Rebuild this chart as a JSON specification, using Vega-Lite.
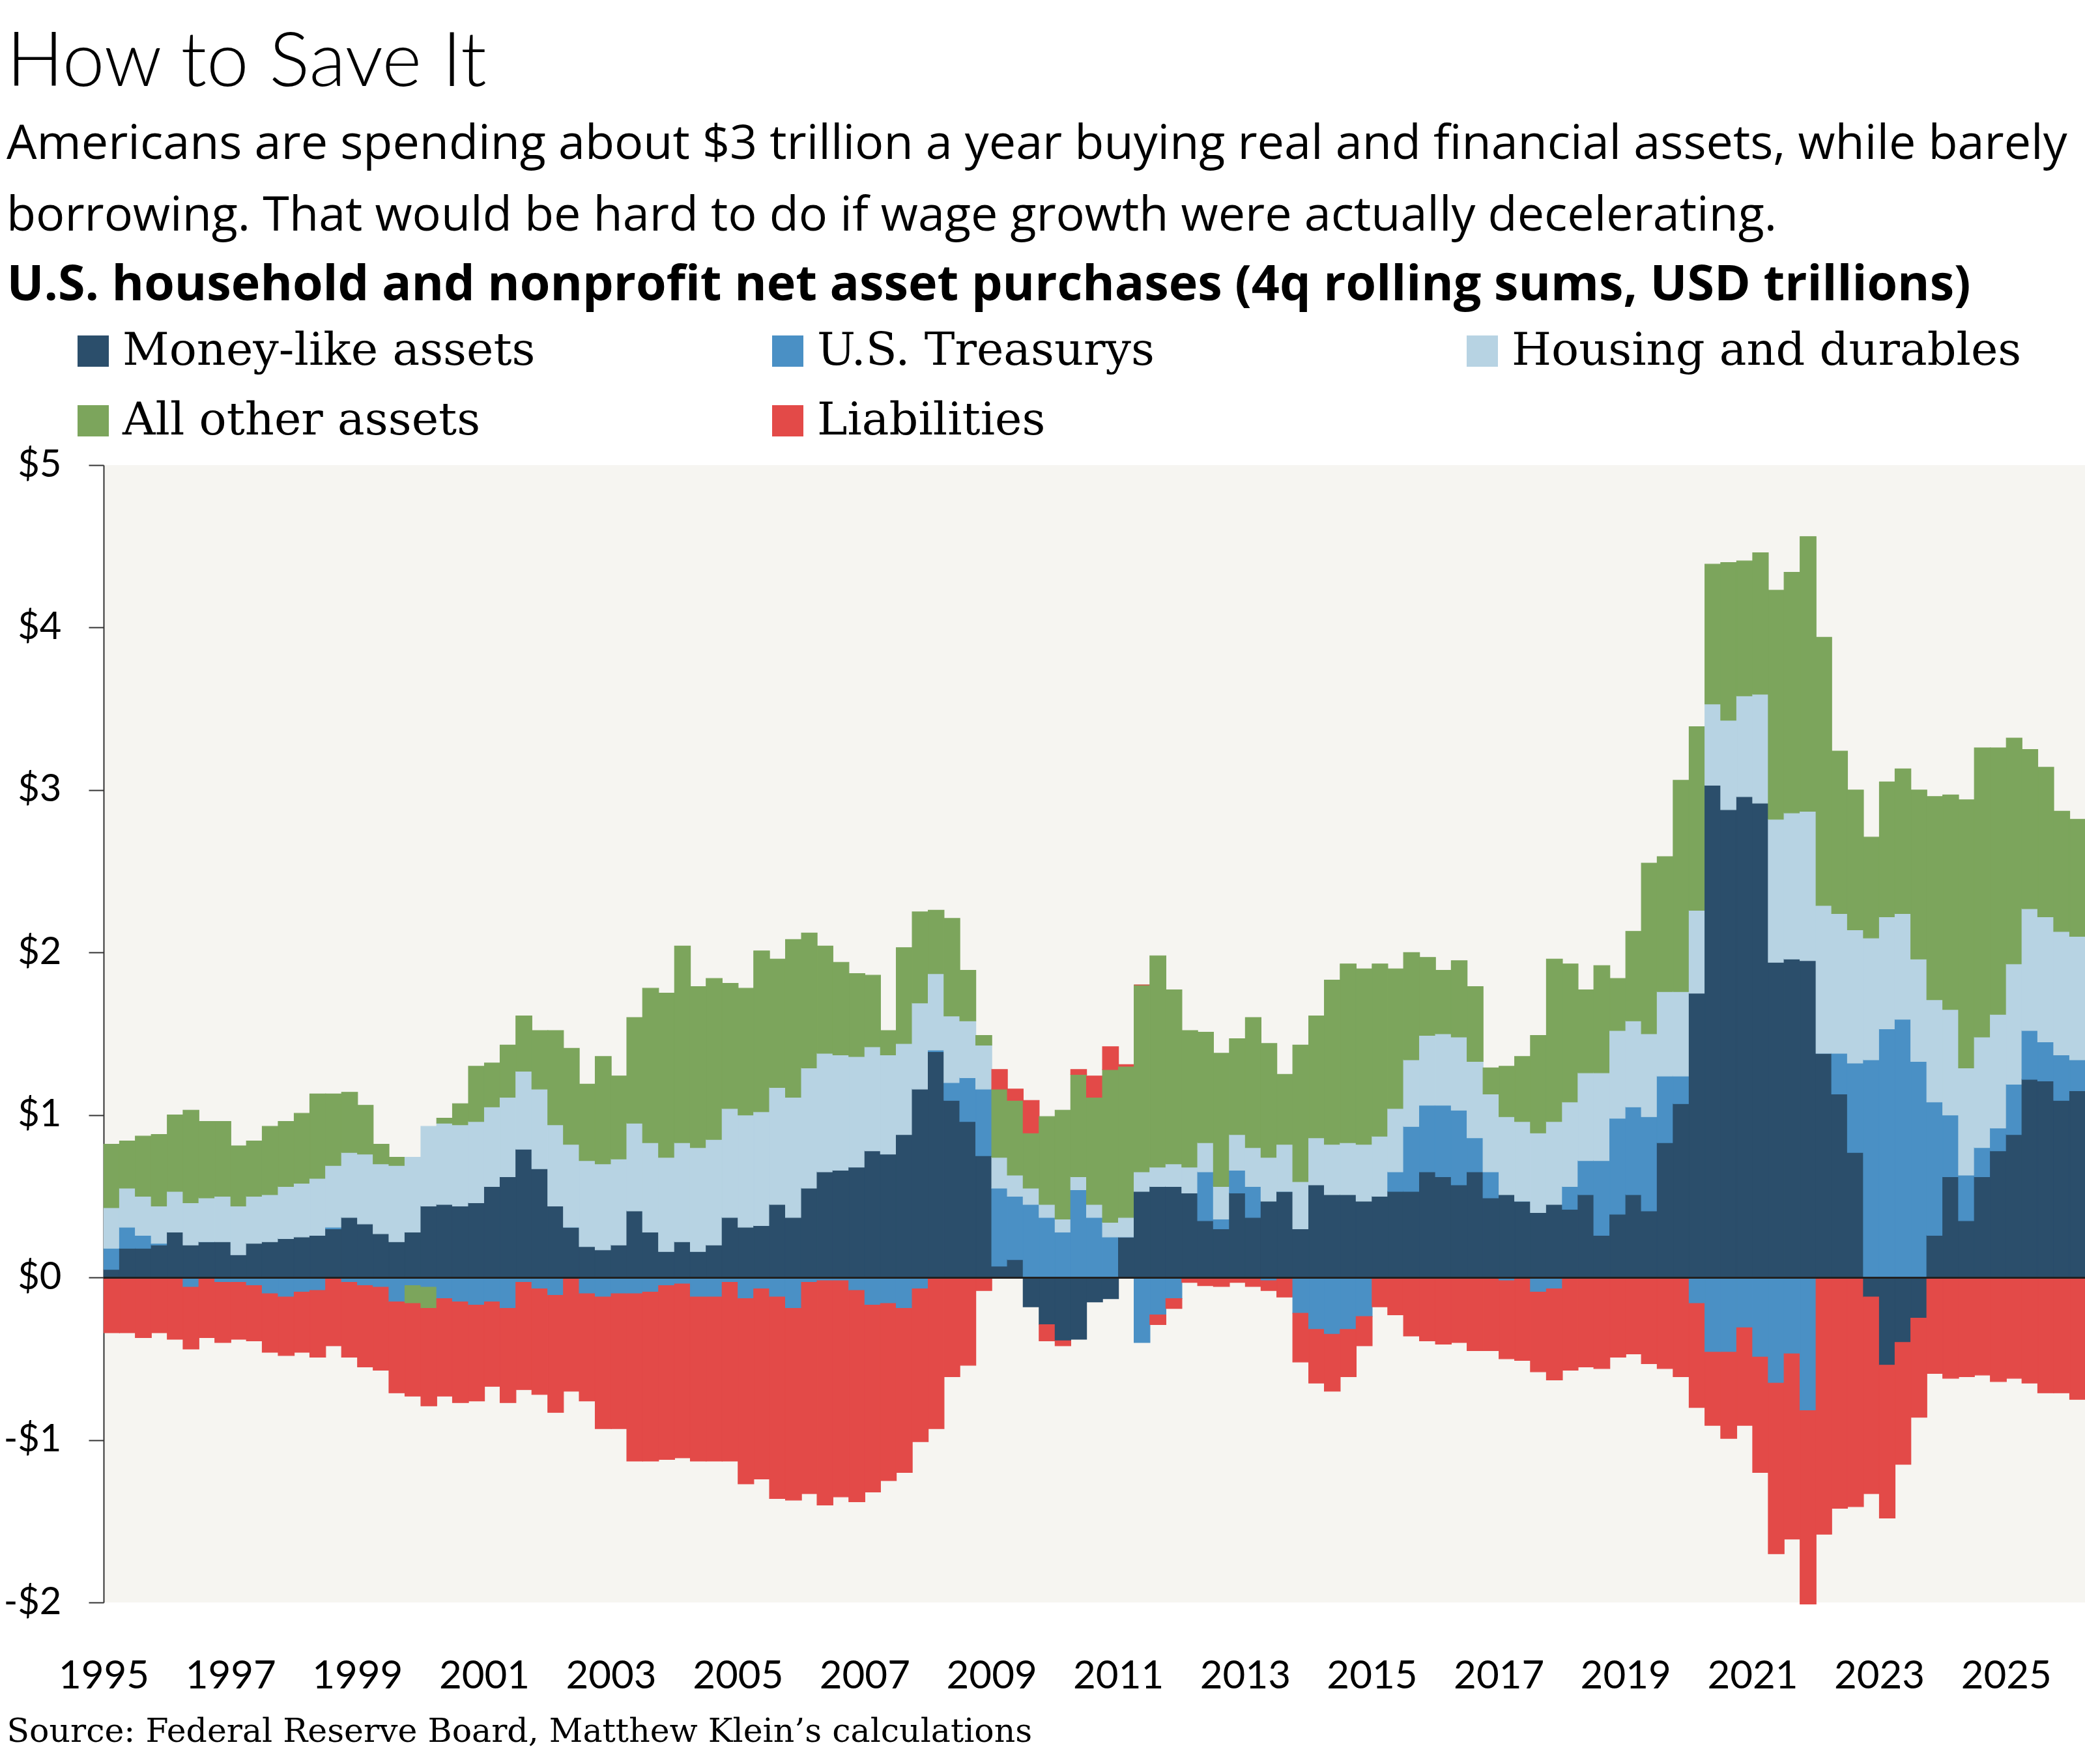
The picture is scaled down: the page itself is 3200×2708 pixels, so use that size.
{
  "$schema": "https://vega.github.io/schema/vega-lite/v6.json",
  "width": 3041,
  "height": 1746,
  "autosize": {"type": "none"},
  "padding": {"left": 159, "top": 714, "right": 0, "bottom": 248},
  "background": "#ffffff",
  "config": {"view": {"fill": "#f6f5f1", "stroke": null}},
  "title": {
    "text": "How to Save It",
    "subtitle": ["Americans are spending about $3 trillion a year buying real and financial assets, while barely", "borrowing. That would be hard to do if wage growth were actually decelerating."],
    "anchor": "start",
    "frame": "group",
    "dx": -149,
    "offset": 30,
    "font": "Lato",
    "fontSize": 116,
    "fontWeight": 300,
    "color": "#000000",
    "subtitleFont": "Open Sans",
    "subtitleFontSize": 73.7,
    "subtitleColor": "#000000",
    "subtitleLineHeight": 110,
    "subtitlePadding": 30
  },
  "data": {
    "values": [
      {"q": "1995-01-01", "money": 0.05, "treasurys": 0.13, "housing": 0.25, "other": 0.39, "liabilities": -0.34},
      {"q": "1995-04-01", "money": 0.18, "treasurys": 0.13, "housing": 0.24, "other": 0.29, "liabilities": -0.34},
      {"q": "1995-07-01", "money": 0.18, "treasurys": 0.08, "housing": 0.24, "other": 0.37, "liabilities": -0.37},
      {"q": "1995-10-01", "money": 0.20, "treasurys": 0.01, "housing": 0.23, "other": 0.44, "liabilities": -0.34},
      {"q": "1996-01-01", "money": 0.28, "treasurys": 0.00, "housing": 0.25, "other": 0.47, "liabilities": -0.38},
      {"q": "1996-04-01", "money": 0.20, "treasurys": -0.06, "housing": 0.26, "other": 0.57, "liabilities": -0.38},
      {"q": "1996-07-01", "money": 0.22, "treasurys": 0.00, "housing": 0.27, "other": 0.47, "liabilities": -0.37},
      {"q": "1996-10-01", "money": 0.22, "treasurys": -0.03, "housing": 0.28, "other": 0.46, "liabilities": -0.37},
      {"q": "1997-01-01", "money": 0.14, "treasurys": -0.03, "housing": 0.30, "other": 0.37, "liabilities": -0.35},
      {"q": "1997-04-01", "money": 0.21, "treasurys": -0.05, "housing": 0.29, "other": 0.34, "liabilities": -0.34},
      {"q": "1997-07-01", "money": 0.22, "treasurys": -0.10, "housing": 0.29, "other": 0.42, "liabilities": -0.36},
      {"q": "1997-10-01", "money": 0.24, "treasurys": -0.12, "housing": 0.32, "other": 0.40, "liabilities": -0.36},
      {"q": "1998-01-01", "money": 0.25, "treasurys": -0.09, "housing": 0.33, "other": 0.43, "liabilities": -0.37},
      {"q": "1998-04-01", "money": 0.26, "treasurys": -0.08, "housing": 0.35, "other": 0.52, "liabilities": -0.41},
      {"q": "1998-07-01", "money": 0.30, "treasurys": 0.01, "housing": 0.38, "other": 0.44, "liabilities": -0.42},
      {"q": "1998-10-01", "money": 0.37, "treasurys": -0.03, "housing": 0.40, "other": 0.37, "liabilities": -0.46},
      {"q": "1999-01-01", "money": 0.33, "treasurys": -0.05, "housing": 0.43, "other": 0.30, "liabilities": -0.50},
      {"q": "1999-04-01", "money": 0.27, "treasurys": -0.06, "housing": 0.43, "other": 0.12, "liabilities": -0.51},
      {"q": "1999-07-01", "money": 0.22, "treasurys": -0.15, "housing": 0.47, "other": 0.05, "liabilities": -0.56},
      {"q": "1999-10-01", "money": 0.28, "treasurys": -0.05, "housing": 0.46, "other": -0.11, "liabilities": -0.57},
      {"q": "2000-01-01", "money": 0.44, "treasurys": -0.06, "housing": 0.49, "other": -0.13, "liabilities": -0.60},
      {"q": "2000-04-01", "money": 0.45, "treasurys": -0.13, "housing": 0.50, "other": 0.03, "liabilities": -0.60},
      {"q": "2000-07-01", "money": 0.44, "treasurys": -0.15, "housing": 0.50, "other": 0.13, "liabilities": -0.62},
      {"q": "2000-10-01", "money": 0.46, "treasurys": -0.17, "housing": 0.50, "other": 0.34, "liabilities": -0.59},
      {"q": "2001-01-01", "money": 0.56, "treasurys": -0.15, "housing": 0.49, "other": 0.27, "liabilities": -0.52},
      {"q": "2001-04-01", "money": 0.62, "treasurys": -0.19, "housing": 0.49, "other": 0.32, "liabilities": -0.58},
      {"q": "2001-07-01", "money": 0.79, "treasurys": -0.03, "housing": 0.48, "other": 0.34, "liabilities": -0.66},
      {"q": "2001-10-01", "money": 0.67, "treasurys": -0.07, "housing": 0.49, "other": 0.36, "liabilities": -0.65},
      {"q": "2002-01-01", "money": 0.44, "treasurys": -0.11, "housing": 0.50, "other": 0.58, "liabilities": -0.72},
      {"q": "2002-04-01", "money": 0.31, "treasurys": 0.00, "housing": 0.51, "other": 0.59, "liabilities": -0.70},
      {"q": "2002-07-01", "money": 0.19, "treasurys": -0.10, "housing": 0.53, "other": 0.47, "liabilities": -0.66},
      {"q": "2002-10-01", "money": 0.17, "treasurys": -0.12, "housing": 0.53, "other": 0.66, "liabilities": -0.81},
      {"q": "2003-01-01", "money": 0.20, "treasurys": -0.10, "housing": 0.53, "other": 0.51, "liabilities": -0.83},
      {"q": "2003-04-01", "money": 0.41, "treasurys": -0.10, "housing": 0.54, "other": 0.65, "liabilities": -1.03},
      {"q": "2003-07-01", "money": 0.28, "treasurys": -0.09, "housing": 0.55, "other": 0.95, "liabilities": -1.04},
      {"q": "2003-10-01", "money": 0.16, "treasurys": -0.05, "housing": 0.58, "other": 1.01, "liabilities": -1.07},
      {"q": "2004-01-01", "money": 0.22, "treasurys": -0.04, "housing": 0.61, "other": 1.21, "liabilities": -1.07},
      {"q": "2004-04-01", "money": 0.16, "treasurys": -0.12, "housing": 0.64, "other": 0.99, "liabilities": -1.01},
      {"q": "2004-07-01", "money": 0.20, "treasurys": -0.12, "housing": 0.65, "other": 0.99, "liabilities": -1.01},
      {"q": "2004-10-01", "money": 0.37, "treasurys": -0.03, "housing": 0.67, "other": 0.77, "liabilities": -1.10},
      {"q": "2005-01-01", "money": 0.31, "treasurys": -0.13, "housing": 0.69, "other": 0.78, "liabilities": -1.14},
      {"q": "2005-04-01", "money": 0.32, "treasurys": -0.07, "housing": 0.70, "other": 0.99, "liabilities": -1.17},
      {"q": "2005-07-01", "money": 0.45, "treasurys": -0.12, "housing": 0.72, "other": 0.79, "liabilities": -1.24},
      {"q": "2005-10-01", "money": 0.37, "treasurys": -0.19, "housing": 0.74, "other": 0.97, "liabilities": -1.18},
      {"q": "2006-01-01", "money": 0.55, "treasurys": -0.03, "housing": 0.74, "other": 0.83, "liabilities": -1.30},
      {"q": "2006-04-01", "money": 0.65, "treasurys": -0.02, "housing": 0.73, "other": 0.66, "liabilities": -1.38},
      {"q": "2006-07-01", "money": 0.66, "treasurys": -0.02, "housing": 0.71, "other": 0.57, "liabilities": -1.33},
      {"q": "2006-10-01", "money": 0.68, "treasurys": -0.08, "housing": 0.68, "other": 0.51, "liabilities": -1.30},
      {"q": "2007-01-01", "money": 0.78, "treasurys": -0.17, "housing": 0.64, "other": 0.44, "liabilities": -1.15},
      {"q": "2007-04-01", "money": 0.76, "treasurys": -0.16, "housing": 0.61, "other": 0.15, "liabilities": -1.09},
      {"q": "2007-07-01", "money": 0.88, "treasurys": -0.19, "housing": 0.56, "other": 0.59, "liabilities": -1.01},
      {"q": "2007-10-01", "money": 1.16, "treasurys": -0.07, "housing": 0.53, "other": 0.56, "liabilities": -0.94},
      {"q": "2008-01-01", "money": 1.39, "treasurys": 0.01, "housing": 0.47, "other": 0.39, "liabilities": -0.93},
      {"q": "2008-04-01", "money": 1.09, "treasurys": 0.11, "housing": 0.41, "other": 0.60, "liabilities": -0.61},
      {"q": "2008-07-01", "money": 0.96, "treasurys": 0.27, "housing": 0.35, "other": 0.31, "liabilities": -0.54},
      {"q": "2008-10-01", "money": 0.75, "treasurys": 0.41, "housing": 0.27, "other": 0.06, "liabilities": -0.08},
      {"q": "2009-01-01", "money": 0.07, "treasurys": 0.48, "housing": 0.19, "other": 0.42, "liabilities": 0.12},
      {"q": "2009-04-01", "money": 0.11, "treasurys": 0.39, "housing": 0.13, "other": 0.46, "liabilities": 0.07},
      {"q": "2009-07-01", "money": -0.18, "treasurys": 0.45, "housing": 0.10, "other": 0.34, "liabilities": 0.20},
      {"q": "2009-10-01", "money": -0.29, "treasurys": 0.37, "housing": 0.08, "other": 0.54, "liabilities": -0.10},
      {"q": "2010-01-01", "money": -0.39, "treasurys": 0.28, "housing": 0.08, "other": 0.67, "liabilities": -0.03},
      {"q": "2010-04-01", "money": -0.38, "treasurys": 0.54, "housing": 0.08, "other": 0.63, "liabilities": 0.03},
      {"q": "2010-07-01", "money": -0.15, "treasurys": 0.37, "housing": 0.08, "other": 0.66, "liabilities": 0.13},
      {"q": "2010-10-01", "money": -0.13, "treasurys": 0.25, "housing": 0.09, "other": 0.94, "liabilities": 0.14},
      {"q": "2011-01-01", "money": 0.25, "treasurys": 0.00, "housing": 0.12, "other": 0.93, "liabilities": 0.01},
      {"q": "2011-04-01", "money": 0.53, "treasurys": -0.40, "housing": 0.12, "other": 1.15, "liabilities": 0.00},
      {"q": "2011-07-01", "money": 0.56, "treasurys": -0.23, "housing": 0.12, "other": 1.30, "liabilities": -0.06},
      {"q": "2011-10-01", "money": 0.56, "treasurys": -0.13, "housing": 0.14, "other": 1.07, "liabilities": -0.06},
      {"q": "2012-01-01", "money": 0.52, "treasurys": 0.00, "housing": 0.16, "other": 0.84, "liabilities": -0.03},
      {"q": "2012-04-01", "money": 0.35, "treasurys": 0.30, "housing": 0.18, "other": 0.68, "liabilities": -0.05},
      {"q": "2012-07-01", "money": 0.30, "treasurys": 0.06, "housing": 0.20, "other": 0.82, "liabilities": -0.055},
      {"q": "2012-10-01", "money": 0.52, "treasurys": 0.14, "housing": 0.22, "other": 0.59, "liabilities": -0.03},
      {"q": "2013-01-01", "money": 0.37, "treasurys": 0.19, "housing": 0.24, "other": 0.80, "liabilities": -0.055},
      {"q": "2013-04-01", "money": 0.47, "treasurys": -0.02, "housing": 0.27, "other": 0.70, "liabilities": -0.06},
      {"q": "2013-07-01", "money": 0.53, "treasurys": 0.00, "housing": 0.29, "other": 0.43, "liabilities": -0.12},
      {"q": "2013-10-01", "money": 0.30, "treasurys": -0.22, "housing": 0.29, "other": 0.84, "liabilities": -0.30},
      {"q": "2014-01-01", "money": 0.57, "treasurys": -0.32, "housing": 0.29, "other": 0.75, "liabilities": -0.33},
      {"q": "2014-04-01", "money": 0.51, "treasurys": -0.35, "housing": 0.31, "other": 1.01, "liabilities": -0.35},
      {"q": "2014-07-01", "money": 0.51, "treasurys": -0.32, "housing": 0.32, "other": 1.10, "liabilities": -0.29},
      {"q": "2014-10-01", "money": 0.47, "treasurys": -0.24, "housing": 0.35, "other": 1.08, "liabilities": -0.18},
      {"q": "2015-01-01", "money": 0.50, "treasurys": 0.00, "housing": 0.37, "other": 1.06, "liabilities": -0.18},
      {"q": "2015-04-01", "money": 0.53, "treasurys": 0.12, "housing": 0.39, "other": 0.86, "liabilities": -0.23},
      {"q": "2015-07-01", "money": 0.53, "treasurys": 0.40, "housing": 0.41, "other": 0.66, "liabilities": -0.36},
      {"q": "2015-10-01", "money": 0.65, "treasurys": 0.41, "housing": 0.43, "other": 0.48, "liabilities": -0.39},
      {"q": "2016-01-01", "money": 0.62, "treasurys": 0.44, "housing": 0.44, "other": 0.39, "liabilities": -0.41},
      {"q": "2016-04-01", "money": 0.57, "treasurys": 0.46, "housing": 0.45, "other": 0.47, "liabilities": -0.40},
      {"q": "2016-07-01", "money": 0.65, "treasurys": 0.21, "housing": 0.47, "other": 0.46, "liabilities": -0.45},
      {"q": "2016-10-01", "money": 0.49, "treasurys": 0.16, "housing": 0.48, "other": 0.16, "liabilities": -0.45},
      {"q": "2017-01-01", "money": 0.51, "treasurys": -0.02, "housing": 0.48, "other": 0.31, "liabilities": -0.48},
      {"q": "2017-04-01", "money": 0.47, "treasurys": 0.00, "housing": 0.49, "other": 0.40, "liabilities": -0.51},
      {"q": "2017-07-01", "money": 0.40, "treasurys": -0.09, "housing": 0.49, "other": 0.60, "liabilities": -0.49},
      {"q": "2017-10-01", "money": 0.45, "treasurys": -0.07, "housing": 0.51, "other": 1.00, "liabilities": -0.56},
      {"q": "2018-01-01", "money": 0.42, "treasurys": 0.14, "housing": 0.52, "other": 0.85, "liabilities": -0.57},
      {"q": "2018-04-01", "money": 0.51, "treasurys": 0.21, "housing": 0.54, "other": 0.51, "liabilities": -0.55},
      {"q": "2018-07-01", "money": 0.26, "treasurys": 0.46, "housing": 0.54, "other": 0.66, "liabilities": -0.56},
      {"q": "2018-10-01", "money": 0.39, "treasurys": 0.59, "housing": 0.54, "other": 0.32, "liabilities": -0.49},
      {"q": "2019-01-01", "money": 0.51, "treasurys": 0.54, "housing": 0.53, "other": 0.55, "liabilities": -0.47},
      {"q": "2019-04-01", "money": 0.41, "treasurys": 0.58, "housing": 0.51, "other": 1.05, "liabilities": -0.53},
      {"q": "2019-07-01", "money": 0.83, "treasurys": 0.41, "housing": 0.52, "other": 0.83, "liabilities": -0.56},
      {"q": "2019-10-01", "money": 1.07, "treasurys": 0.17, "housing": 0.52, "other": 1.30, "liabilities": -0.61},
      {"q": "2020-01-01", "money": 1.75, "treasurys": -0.16, "housing": 0.51, "other": 1.13, "liabilities": -0.64},
      {"q": "2020-04-01", "money": 3.03, "treasurys": -0.46, "housing": 0.50, "other": 0.86, "liabilities": -0.45},
      {"q": "2020-07-01", "money": 2.88, "treasurys": -0.46, "housing": 0.55, "other": 0.97, "liabilities": -0.53},
      {"q": "2020-10-01", "money": 2.96, "treasurys": -0.31, "housing": 0.62, "other": 0.83, "liabilities": -0.60},
      {"q": "2021-01-01", "money": 2.92, "treasurys": -0.49, "housing": 0.67, "other": 0.87, "liabilities": -0.71},
      {"q": "2021-04-01", "money": 1.94, "treasurys": -0.65, "housing": 0.88, "other": 1.41, "liabilities": -1.05},
      {"q": "2021-07-01", "money": 1.96, "treasurys": -0.47, "housing": 0.90, "other": 1.48, "liabilities": -1.14},
      {"q": "2021-10-01", "money": 1.95, "treasurys": -0.82, "housing": 0.92, "other": 1.69, "liabilities": -1.19},
      {"q": "2022-01-01", "money": 1.38, "treasurys": 0.00, "housing": 0.91, "other": 1.65, "liabilities": -1.58},
      {"q": "2022-04-01", "money": 1.13, "treasurys": 0.25, "housing": 0.86, "other": 1.00, "liabilities": -1.42},
      {"q": "2022-07-01", "money": 0.77, "treasurys": 0.55, "housing": 0.82, "other": 0.86, "liabilities": -1.41},
      {"q": "2022-10-01", "money": -0.12, "treasurys": 1.34, "housing": 0.75, "other": 0.62, "liabilities": -1.21},
      {"q": "2023-01-01", "money": -0.54, "treasurys": 1.53, "housing": 0.69, "other": 0.83, "liabilities": -0.94},
      {"q": "2023-04-01", "money": -0.40, "treasurys": 1.59, "housing": 0.65, "other": 0.89, "liabilities": -0.75},
      {"q": "2023-07-01", "money": -0.25, "treasurys": 1.33, "housing": 0.63, "other": 1.04, "liabilities": -0.61},
      {"q": "2023-10-01", "money": 0.26, "treasurys": 0.82, "housing": 0.63, "other": 1.25, "liabilities": -0.59},
      {"q": "2024-01-01", "money": 0.62, "treasurys": 0.38, "housing": 0.65, "other": 1.32, "liabilities": -0.62},
      {"q": "2024-04-01", "money": 0.35, "treasurys": 0.28, "housing": 0.66, "other": 1.65, "liabilities": -0.61},
      {"q": "2024-07-01", "money": 0.62, "treasurys": 0.18, "housing": 0.68, "other": 1.78, "liabilities": -0.60},
      {"q": "2024-10-01", "money": 0.78, "treasurys": 0.14, "housing": 0.70, "other": 1.64, "liabilities": -0.64},
      {"q": "2025-01-01", "money": 0.88, "treasurys": 0.31, "housing": 0.74, "other": 1.39, "liabilities": -0.62},
      {"q": "2025-04-01", "money": 1.22, "treasurys": 0.30, "housing": 0.75, "other": 0.98, "liabilities": -0.65},
      {"q": "2025-07-01", "money": 1.21, "treasurys": 0.24, "housing": 0.77, "other": 0.92, "liabilities": -0.71},
      {"q": "2025-10-01", "money": 1.09, "treasurys": 0.28, "housing": 0.76, "other": 0.74, "liabilities": -0.71},
      {"q": "2026-01-01", "money": 1.15, "treasurys": 0.19, "housing": 0.76, "other": 0.72, "liabilities": -0.75}
    ]
  },
  "transform": [
    {"fold": ["money", "treasurys", "housing", "other", "liabilities"], "as": ["series", "value"]},
    {"calculate": "indexof(['money', 'treasurys', 'housing', 'other', 'liabilities'], datum.series)", "as": "stackOrder"}
  ],
  "layer": [
    {
      "mark": {"type": "bar", "binSpacing": 0, "strokeWidth": 1.2},
      "encoding": {
        "x": {
          "field": "q",
          "type": "temporal",
          "timeUnit": "utcyearquarter",
          "scale": {"domain": [{"year": 1995, "month": 1, "date": 1, "utc": true}, {"year": 2026, "month": 4, "date": 1, "utc": true}]},
          "axis": {
            "values": [
              {"year": 1995, "month": 1, "date": 1, "utc": true}, {"year": 1997, "month": 1, "date": 1, "utc": true},
              {"year": 1999, "month": 1, "date": 1, "utc": true}, {"year": 2001, "month": 1, "date": 1, "utc": true},
              {"year": 2003, "month": 1, "date": 1, "utc": true}, {"year": 2005, "month": 1, "date": 1, "utc": true},
              {"year": 2007, "month": 1, "date": 1, "utc": true}, {"year": 2009, "month": 1, "date": 1, "utc": true},
              {"year": 2011, "month": 1, "date": 1, "utc": true}, {"year": 2013, "month": 1, "date": 1, "utc": true},
              {"year": 2015, "month": 1, "date": 1, "utc": true}, {"year": 2017, "month": 1, "date": 1, "utc": true},
              {"year": 2019, "month": 1, "date": 1, "utc": true}, {"year": 2021, "month": 1, "date": 1, "utc": true},
              {"year": 2023, "month": 1, "date": 1, "utc": true}, {"year": 2025, "month": 1, "date": 1, "utc": true}
            ],
            "labelExpr": "utcFormat(datum.value, '%Y')",
            "domain": false,
            "ticks": false,
            "grid": false,
            "labelFont": "Lato",
            "labelFontSize": 60,
            "labelColor": "#000000",
            "labelPadding": 84,
            "labelFlush": false,
            "labelOverlap": false,
            "title": "Source: Federal Reserve Board, Matthew Klein’s calculations",
            "titleX": -149,
            "titleY": 213,
            "titleAlign": "left",
            "titleBaseline": "alphabetic",
            "titleFont": "DejaVu Serif",
            "titleFontSize": 50.5,
            "titleFontWeight": "normal",
            "titleColor": "#000000"
          }
        },
        "y": {
          "field": "value",
          "type": "quantitative",
          "stack": "zero",
          "scale": {"domain": [-2, 5], "nice": false, "zero": false},
          "axis": {
            "values": [-2, -1, 0, 1, 2, 3, 4, 5],
            "labelExpr": "datum.value < 0 ? '-$' + abs(datum.value) : '$' + datum.value",
            "grid": false,
            "domain": true,
            "domainColor": "#333333",
            "domainWidth": 2,
            "ticks": true,
            "tickSize": 23,
            "tickColor": "#333333",
            "tickWidth": 2,
            "labelPadding": 42,
            "labelFont": "Lato",
            "labelFontSize": 58,
            "labelColor": "#000000",
            "title": "U.S. household and nonprofit net asset purchases (4q rolling sums, USD trillions)",
            "titleX": -149,
            "titleY": -254,
            "titleAngle": 0,
            "titleAlign": "left",
            "titleBaseline": "alphabetic",
            "titleFont": "Open Sans",
            "titleFontWeight": "bold",
            "titleFontSize": 75.4,
            "titleColor": "#000000"
          }
        },
        "color": {
          "field": "series",
          "type": "nominal",
          "scale": {
            "domain": ["money", "treasurys", "housing", "other", "liabilities"],
            "range": ["#2b4e6b", "#4a90c5", "#b7d3e3", "#7ca55c", "#e34a48"]
          },
          "legend": {
            "orient": "none",
            "legendX": -51,
            "legendY": -210,
            "columns": 3,
            "direction": "horizontal",
            "title": null,
            "padding": 0,
            "labelExpr": "datum.label == 'money' ? 'Money-like assets' : datum.label == 'treasurys' ? 'U.S. Treasurys' : datum.label == 'housing' ? 'Housing and durables' : datum.label == 'other' ? 'All other assets' : 'Liabilities'",
            "symbolType": "square",
            "symbolSize": 2304,
            "symbolStrokeWidth": 0,
            "labelFont": "DejaVu Serif",
            "labelFontSize": 70,
            "labelColor": "#000000",
            "labelOffset": 10,
            "labelLimit": 2000,
            "columnPadding": 203,
            "rowPadding": 37,
            "gridAlign": "all"
          }
        },
        "stroke": {
          "field": "series",
          "type": "nominal",
          "scale": {
            "domain": ["money", "treasurys", "housing", "other", "liabilities"],
            "range": ["#2b4e6b", "#4a90c5", "#b7d3e3", "#7ca55c", "#e34a48"]
          },
          "legend": null
        },
        "order": {"field": "stackOrder", "type": "quantitative"}
      }
    },
    {
      "mark": {"type": "rule", "color": "#222222", "strokeWidth": 2},
      "encoding": {"y": {"datum": 0}}
    }
  ]
}
